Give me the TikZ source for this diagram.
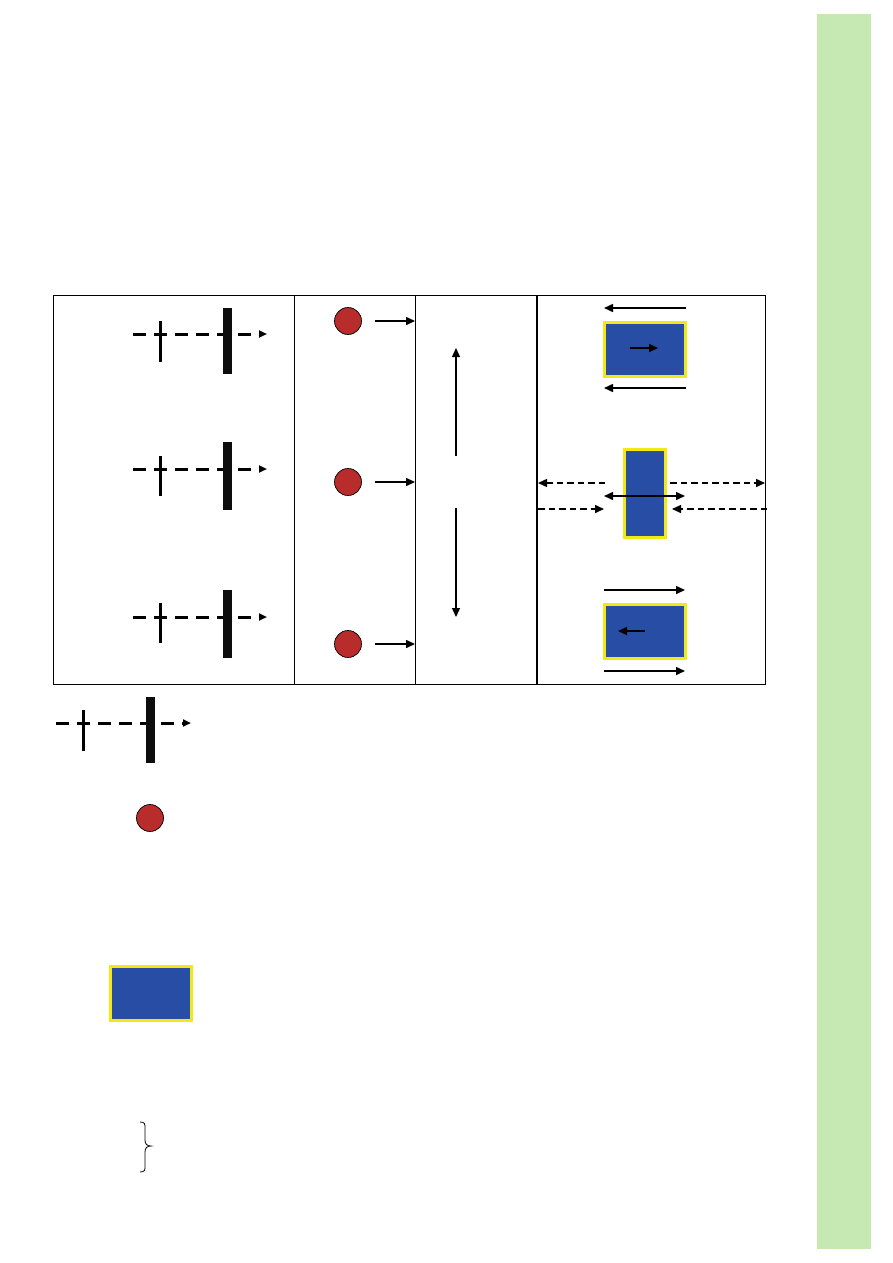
\documentclass[tikz,border=0pt]{standalone}
\usetikzlibrary{arrows.meta}
\definecolor{barGreen}{HTML}{C6E9B4}
\definecolor{dotRed}{HTML}{B82C2C}
\definecolor{boxBlue}{HTML}{284DA5}
\definecolor{boxYellow}{HTML}{F2E814}
\tikzset{
  grid/.style={draw=black,line width=0.9pt},
  fuse/.style={line width=3pt,dash pattern=on 13pt off 8pt,-{Triangle[length=8pt,width=7pt]}},
  smallbar/.style={line width=3pt},
  bigbar/.style={fill=black!95,draw=none},
  dot/.style={circle,minimum size=27pt,inner sep=0pt,fill=dotRed,draw=black,line width=0.7pt},
  arr/.style={line width=1.5pt,-{Triangle[length=9pt,width=8pt]}},
  darr/.style={line width=1.5pt,{Triangle[length=9pt,width=8pt]}-{Triangle[length=9pt,width=8pt]}},
  dsharr/.style={line width=1.5pt,dash pattern=on 6.5pt off 4pt,-{Triangle[length=9pt,width=8pt]}},
  bbox/.style={rectangle,fill=boxBlue,draw=boxYellow,line width=3pt,inner sep=0pt},
}
\begin{document}
\begin{tikzpicture}[x=1pt,y=-1pt]
\useasboundingbox (0,0) rectangle (893,1263);
% green side bar
\fill[barGreen] (817,14) rectangle (871,1249);
% table
\draw[grid] (53,295) rectangle (765,684);
\draw[grid] (294,295) -- (294,684);
\draw[grid] (415,295) -- (415,684);
\draw[line width=2pt] (537,295) -- (537,684);
% column 1 symbols
\foreach \y/\a/\b/\c/\d in {334/321/362/308/374, 469/456/496/442/510, 617/603/643/590/658}{
  \coordinate (fs\y) at (133,\y);
  \coordinate (fe\y) at (267,\y);
  \draw[fuse] (fs\y) -- (fe\y);
  \draw[smallbar] (160,\a) -- (160,\b);
  \fill[black!95] (223,\c) rectangle (232,\d);
}
% column 2 dots
\node[dot] (d1) at (348,321) {};
\node[dot] (d2) at (348,482) {};
\node[dot] (d3) at (348,644) {};
\coordinate (a1s) at (375,321); \coordinate (a1e) at (415,321);
\coordinate (a2s) at (375,482); \coordinate (a2e) at (415,482);
\coordinate (a3s) at (375,644); \coordinate (a3e) at (415,644);
\draw[arr] (a1s) -- (a1e);
\draw[arr] (a2s) -- (a2e);
\draw[arr] (a3s) -- (a3e);
% column 3 vertical arrows
\coordinate (v1s) at (456,456); \coordinate (v1e) at (456,348);
\coordinate (v2s) at (456,508); \coordinate (v2e) at (456,617);
\draw[arr,line width=1.3pt] (v1s) -- (v1e);
\draw[arr,line width=1.3pt] (v2s) -- (v2e);
% column 4
\coordinate (t1s) at (686,308); \coordinate (t1e) at (604,308);
\draw[arr] (t1s) -- (t1e);
\node[bbox,minimum width=81pt,minimum height=54pt] (b1) at (644.5,349) {};
\coordinate (i1s) at (630,348); \coordinate (i1e) at (658,348);
\draw[arr,line width=2pt] (i1s) -- (i1e);
\coordinate (t2s) at (686,388); \coordinate (t2e) at (604,388);
\draw[arr] (t2s) -- (t2e);
% middle
\node[bbox,minimum width=41pt,minimum height=88pt] (b2) at (644.5,493) {};
\coordinate (m1s) at (605,483); \coordinate (m1e) at (538,483);
\coordinate (m2s) at (670,483); \coordinate (m2e) at (765,483);
\coordinate (m3s) at (538,509); \coordinate (m3e) at (604,509);
\coordinate (m4s) at (767,509); \coordinate (m4e) at (672,509);
\draw[dsharr] (m1s) -- (m1e);
\draw[dsharr] (m2s) -- (m2e);
\draw[dsharr] (m3s) -- (m3e);
\draw[dsharr] (m4s) -- (m4e);
\coordinate (ds) at (604,496); \coordinate (de) at (685,496);
\draw[darr] (ds) -- (de);
% bottom
\coordinate (t3s) at (604,590); \coordinate (t3e) at (685,590);
\draw[arr] (t3s) -- (t3e);
\node[bbox,minimum width=81pt,minimum height=54pt] (b3) at (644.5,631) {};
\coordinate (i3s) at (645,631); \coordinate (i3e) at (618,631);
\draw[arr,line width=2pt] (i3s) -- (i3e);
\coordinate (t4s) at (604,671); \coordinate (t4e) at (685,671);
\draw[arr] (t4s) -- (t4e);
% legend
\coordinate (ls) at (56,723); \coordinate (le) at (191,723);
\draw[fuse] (ls) -- (le);
\draw[smallbar] (83,710) -- (83,751);
\fill[black!95] (146,697) rectangle (155,763);
\node[dot] (ld) at (150,818) {};
\node[bbox,minimum width=81pt,minimum height=54pt] (lb) at (150.5,993) {};
\draw[line width=0.8pt] (140,1122) .. controls (145,1122) and (145,1124) .. (145,1128)
  -- (145,1140) .. controls (145,1144) and (147,1146) .. (151,1146)
  .. controls (147,1146) and (145,1148) .. (145,1152)
  -- (145,1166) .. controls (145,1170) and (145,1172) .. (140,1172);
\end{tikzpicture}
\end{document}
